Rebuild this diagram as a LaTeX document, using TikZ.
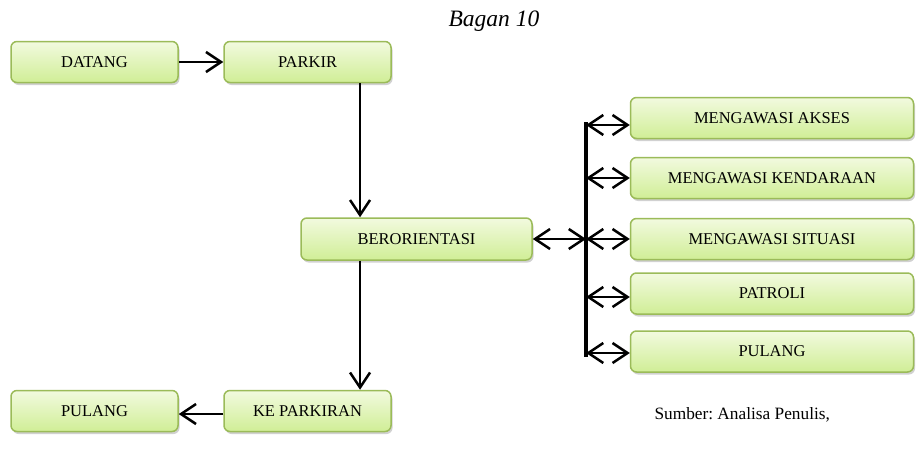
\documentclass[tikz,border=0pt]{standalone}
\usepackage{fontspec}
\setmainfont{Liberation Serif}
\usetikzlibrary{arrows.meta,shadows}
\definecolor{boxedge}{HTML}{9BBB59}
\definecolor{boxtop}{HTML}{F2FADF}
\definecolor{boxbot}{HTML}{D0EE96}
\frenchspacing
\begin{document}
\begin{tikzpicture}[x=1pt,y=-1pt,
  stepbox/.style={draw=boxedge, line width=1.5pt, rounded corners=6pt,
    top color=boxtop, bottom color=boxbot, inner sep=0pt,
    minimum height=41pt, font=\fontsize{16.5}{19}\selectfont,
    drop shadow={opacity=0.3, shadow xshift=1.5pt, shadow yshift=-2.5pt, fill=black!60}},
  smallbox/.style={stepbox, minimum width=167pt},
  widebox/.style={stepbox, minimum width=283pt},
  arr/.style={line width=2.5pt, -{Straight Barb[length=15pt, width=20pt]}},
  darr/.style={line width=2.5pt, {Straight Barb[length=15pt, width=20pt]}-{Straight Barb[length=15pt, width=20pt]}},
  bar/.style={line width=4.5pt}
]
\useasboundingbox (0,0) rectangle (916,455);

% title and source note
\node (title) at (494,21) {\fontsize{23.5}{28}\selectfont\itshape Bagan 10};
\node[anchor=west, font=\fontsize{17.3}{20}\selectfont] (sumber) at (651,415) {Sumber: Analisa Penulis,};

% main flow
\node[smallbox] (datang) at (94.5,62) {DATANG};
\node[smallbox] (parkir) at (307.5,62) {PARKIR};
\node[stepbox, minimum width=231pt, minimum height=42pt] (beror) at (416.5,239) {BERORIENTASI};
\node[smallbox] (keparkir) at (307.5,411) {KE PARKIRAN};
\node[smallbox] (pulangA) at (94.5,411) {PULANG};

% activities
\node[widebox] (akses) at (772,118) {MENGAWASI AKSES};
\node[widebox] (kendaraan) at (772,178) {MENGAWASI KENDARAAN};
\node[widebox] (situasi) at (772,239) {MENGAWASI SITUASI};
\node[widebox] (patroli) at (772,293.5) {PATROLI};
\node[widebox] (pulangB) at (772,351.5) {PULANG};

% connectors of the main flow
\draw[arr] (datang) -- (parkir);
\draw[arr] ([xshift=52.5pt]parkir.south) -- ([xshift=52.5pt]parkir.south |- beror.north);
\draw[arr] ([xshift=52.5pt]keparkir.north |- beror.south) -- ([xshift=52.5pt]keparkir.north);
\draw[arr] ([yshift=-3pt]keparkir.west) -- ([yshift=-3pt]pulangA.east);

% branching bar with its junctions
\coordinate (bartop) at (586,122);
\coordinate (barbot) at (586,357);
\coordinate (j1) at (586,125);
\coordinate (j2) at (586,178);
\coordinate (j3) at (586,239);
\coordinate (j4) at (586,297);
\coordinate (j5) at (586,353);
\draw[bar] (bartop) -- (barbot);

\draw[darr] (beror.east) -- (j3);
\draw[darr] (j1) -- (j1 -| akses.west);
\draw[darr] (j2) -- (j2 -| kendaraan.west);
\draw[darr] (j3) -- (j3 -| situasi.west);
\draw[darr] (j4) -- (j4 -| patroli.west);
\draw[darr] (j5) -- (j5 -| pulangB.west);
\end{tikzpicture}
\end{document}
